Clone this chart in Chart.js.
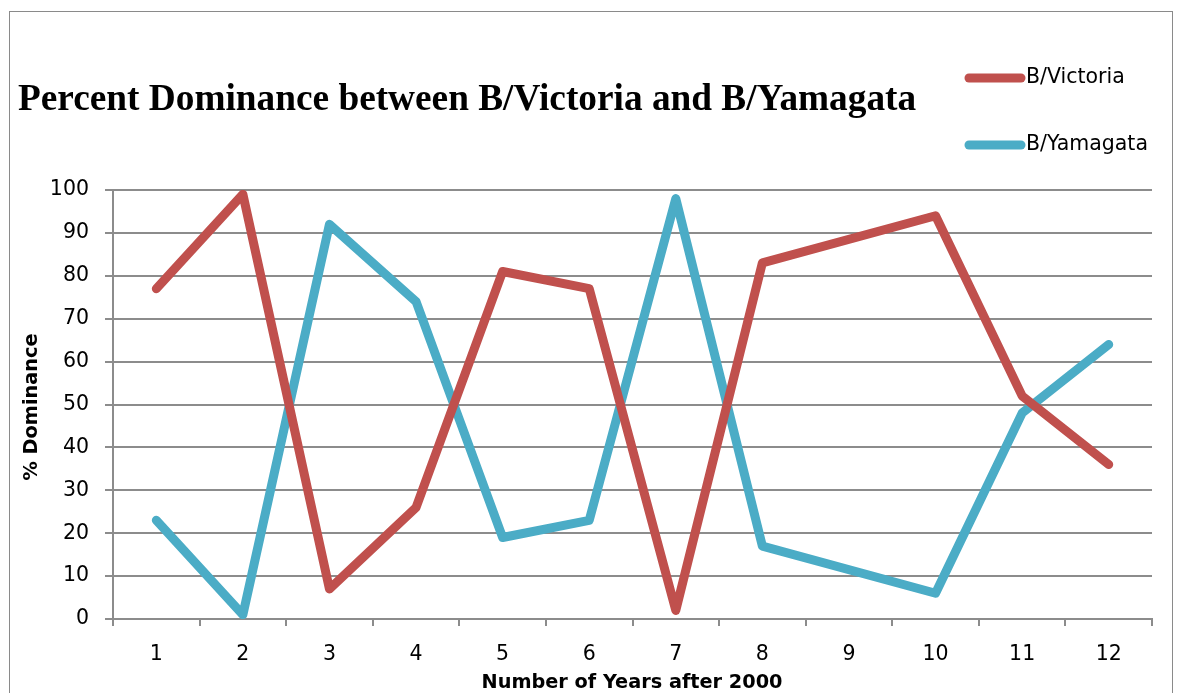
<!DOCTYPE html>
<html>
<head>
<meta charset="utf-8">
<script src="https://cdn.jsdelivr.net/npm/chart.js@4"></script>
<style>
html,body{margin:0;padding:0;background:#fff;}
#wrap{width:1179px;height:693px;position:relative;}
</style>
</head>
<body>
<div id="wrap"><canvas id="c" width="1179" height="693"></canvas></div>
<script>
const categories = ['1','2','3','4','5','6','7','8','9','10','11','12'];
const victoria = [77, 99, 7, 26, 81, 77, 2, 83, null, 94, 52, 36];
const yamagata = [23, 1, 92, 74, 19, 23, 98, 17, null, 6, 48, 64];
const seriesNames = ['B/Victoria', 'B/Yamagata'];
const titleText = 'Percent Dominance between B/Victoria and B/Yamagata';
const yTitle = '% Dominance';
const xTitle = 'Number of Years after 2000';

const RED = '#C0504D', BLUE = '#4BACC6', GRID = '#8c8c8c';
const SANS = '"DejaVu Sans", "Open Sans", sans-serif';

const decor = {
  id: 'decor',
  afterDraw(chart) {
    const ctx = chart.ctx;
    ctx.save();
    // outer border
    ctx.strokeStyle = '#8a8a8a';
    ctx.lineWidth = 1;
    ctx.strokeRect(9.5, 11.5, 1163, 700);
    // title
    ctx.fillStyle = '#000';
    ctx.font = 'bold 37.3px "Liberation Serif", "Times New Roman", serif';
    ctx.textBaseline = 'alphabetic';
    ctx.textAlign = 'left';
    ctx.fillText(titleText, 18, 110);
    // legend
    const items = [[seriesNames[0], RED, 78], [seriesNames[1], BLUE, 145]];
    items.forEach(([t, col, y]) => {
      ctx.strokeStyle = col;
      ctx.lineWidth = 9;
      ctx.lineCap = 'round';
      ctx.beginPath();
      ctx.moveTo(969, y);
      ctx.lineTo(1021, y);
      ctx.stroke();
      ctx.fillStyle = '#000';
      ctx.font = '20.5px ' + SANS;
      ctx.textBaseline = 'middle';
      ctx.fillText(t, 1026, y);
    });
    // axis titles
    ctx.font = 'bold 19.3px ' + SANS;
    ctx.textAlign = 'center';
    ctx.textBaseline = 'middle';
    ctx.fillText(xTitle, 632, 683);
    ctx.translate(32, 407);
    ctx.rotate(-Math.PI / 2);
    ctx.fillText(yTitle, 0, 0);
    ctx.restore();
  }
};

new Chart(document.getElementById('c'), {
  type: 'line',
  data: {
    labels: categories,
    datasets: [
      { label: seriesNames[0], data: victoria, borderColor: RED, backgroundColor: RED },
      { label: seriesNames[1], data: yamagata, borderColor: BLUE, backgroundColor: BLUE }
    ]
  },
  options: {
    responsive: false,
    animation: false,
    spanGaps: true,
    layout: { padding: { top: 190, right: 27, left: 0, bottom: 0 } },
    elements: {
      line: { borderWidth: 9, tension: 0, borderCapStyle: 'round', borderJoinStyle: 'round' },
      point: { radius: 0, hoverRadius: 0 }
    },
    plugins: { legend: { display: false }, title: { display: false }, tooltip: { enabled: false } },
    scales: {
      x: {
        offset: true,
        grid: { offset: true, drawOnChartArea: false, drawTicks: true, tickLength: 7, color: GRID, lineWidth: 2 },
        border: { color: GRID, width: 2 },
        ticks: { color: '#000', font: { family: SANS, size: 20.5 }, padding: 16, maxRotation: 0 },
        afterFit(s) { s.height = 74; }
      },
      y: {
        min: 0, max: 100,
        ticks: { stepSize: 10, color: '#000', font: { family: SANS, size: 20.5 }, padding: 16 },
        grid: { color: GRID, lineWidth: 2, tickLength: 8, drawTicks: true },
        border: { color: GRID, width: 2 },
        afterFit(s) { s.width = 113; }
      }
    }
  },
  plugins: [decor]
});
</script>
</body>
</html>
